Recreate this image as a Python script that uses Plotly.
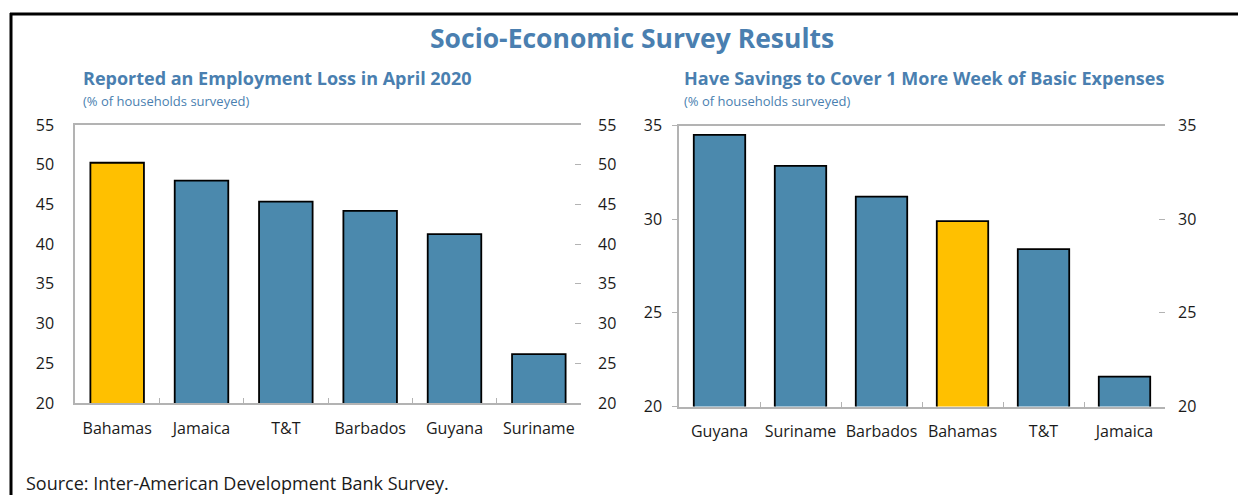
import plotly.graph_objects as go

W, H = 1238, 495

# ---- data ----
title_main = "Socio-Economic Survey Results"
left_title = "Reported an Employment Loss in April 2020"
right_title = "Have Savings to Cover 1 More Week of Basic Expenses"
unit_label = "(% of households surveyed)"
source_text = "Source: Inter-American Development Bank Survey."

left_countries = ["Bahamas", "Jamaica", "T&T", "Barbados", "Guyana", "Suriname"]
left_values = [50.25, 48.0, 45.35, 44.2, 41.25, 26.15]
left_ticks = [20, 25, 30, 35, 40, 45, 50, 55]

right_countries = ["Guyana", "Suriname", "Barbados", "Bahamas", "T&T", "Jamaica"]
right_values = [34.5, 32.85, 31.2, 29.9, 28.4, 21.6]
right_ticks = [20, 25, 30, 35]

highlight = "Bahamas"
BLUE = "#4B89AD"
YELLOW = "#FFC000"
TITLE_BLUE = "#4A7FB0"
GRID = "#B3B3B3"
FONT = "Open Sans"


def px_x(p):
    return p / W


def px_y(p):
    return 1 - p / H


def colors(cs):
    return [YELLOW if c == highlight else BLUE for c in cs]


fig = go.Figure()

fig.add_trace(go.Bar(x=left_countries, y=left_values, xaxis="x", yaxis="y",
                     marker=dict(color=colors(left_countries), line=dict(color="black", width=1.8)),
                     hoverinfo="skip", showlegend=False))
fig.add_trace(go.Scatter(x=left_countries, y=left_values, xaxis="x", yaxis="y3",
                         mode="markers", marker=dict(opacity=0), hoverinfo="skip", showlegend=False))
fig.add_trace(go.Bar(x=right_countries, y=right_values, xaxis="x2", yaxis="y2",
                     marker=dict(color=colors(right_countries), line=dict(color="black", width=1.8)),
                     hoverinfo="skip", showlegend=False))
fig.add_trace(go.Scatter(x=right_countries, y=right_values, xaxis="x2", yaxis="y4",
                         mode="markers", marker=dict(opacity=0), hoverinfo="skip", showlegend=False))

tickfont = dict(family=FONT, size=16, color="#1a1a1a")

L_dom_x = [px_x(75), px_x(581)]
L_dom_y = [px_y(403), px_y(125)]
R_dom_x = [px_x(679), px_x(1165)]
R_dom_y = [px_y(406.5), px_y(125.5)]

xcommon = dict(type="category", showline=True, linecolor=GRID, linewidth=1.5, mirror=True,
               ticks="inside", tickson="boundaries", ticklen=5, tickcolor=GRID,
               tickfont=tickfont, ticklabelstandoff=10, showgrid=False, zeroline=False,
               automargin=False, fixedrange=True)

fig.update_layout(
    width=W, height=H,
    margin=dict(l=0, r=0, t=0, b=0),
    paper_bgcolor="white", plot_bgcolor="white",
    bargap=0.365,
    xaxis=dict(domain=L_dom_x, anchor="y", **xcommon),
    yaxis=dict(domain=L_dom_y, anchor="x", range=[20, 55], tickvals=left_ticks,
               showline=True, linecolor=GRID, linewidth=1.5, ticks="", showgrid=False,
               zeroline=False, tickfont=tickfont, ticklabelstandoff=16, automargin=False),
    yaxis3=dict(overlaying="y", anchor="x", side="right", range=[20, 55], tickvals=left_ticks,
                showline=False, ticks="inside", ticklen=6, tickcolor=GRID, showgrid=False,
                zeroline=False, tickfont=tickfont, ticklabelstandoff=16, automargin=False),
    xaxis2=dict(domain=R_dom_x, anchor="y2", **xcommon),
    yaxis2=dict(domain=R_dom_y, anchor="x2", range=[20, 35], tickvals=right_ticks,
                showline=True, linecolor=GRID, linewidth=1.5, ticks="outside", ticklen=5,
                tickcolor=GRID, showgrid=False, zeroline=False, tickfont=tickfont,
                ticklabelstandoff=7, automargin=False),
    yaxis4=dict(overlaying="y2", anchor="x2", side="right", range=[20, 35], tickvals=right_ticks,
                showline=False, ticks="inside", ticklen=6, tickcolor=GRID, showgrid=False,
                zeroline=False, tickfont=tickfont, ticklabelstandoff=12, automargin=False),
)

annots = [
    dict(text="<b>" + title_main + "</b>", x=px_x(632), y=px_y(38), xanchor="center", yanchor="middle",
         font=dict(family=FONT, size=26.5, color=TITLE_BLUE)),
    dict(text="<b>" + left_title + "</b>", x=px_x(81), y=px_y(78), xanchor="left", yanchor="middle",
         font=dict(family=FONT, size=18, color=TITLE_BLUE)),
    dict(text=unit_label, x=px_x(81), y=px_y(101), xanchor="left", yanchor="middle",
         font=dict(family=FONT, size=13, color=TITLE_BLUE)),
    dict(text="<b>" + right_title + "</b>", x=px_x(682), y=px_y(78), xanchor="left", yanchor="middle",
         font=dict(family=FONT, size=18, color=TITLE_BLUE)),
    dict(text=unit_label, x=px_x(682), y=px_y(101), xanchor="left", yanchor="middle",
         font=dict(family=FONT, size=13, color=TITLE_BLUE)),
    dict(text=source_text, x=px_x(24), y=px_y(483), xanchor="left", yanchor="middle",
         font=dict(family=FONT, size=18, color="#1a1a1a")),
]
for a in annots:
    fig.add_annotation(xref="paper", yref="paper", showarrow=False, **a)

# outer frame (top and left edges)
fig.add_shape(type="line", xref="paper", yref="paper", x0=px_x(10), x1=1, y0=px_y(14), y1=px_y(14),
              line=dict(color="black", width=3))
fig.add_shape(type="line", xref="paper", yref="paper", x0=px_x(11), x1=px_x(11), y0=px_y(13), y1=0,
              line=dict(color="black", width=3))

fig.write_html("out.html", config=dict(displayModeBar=False))
